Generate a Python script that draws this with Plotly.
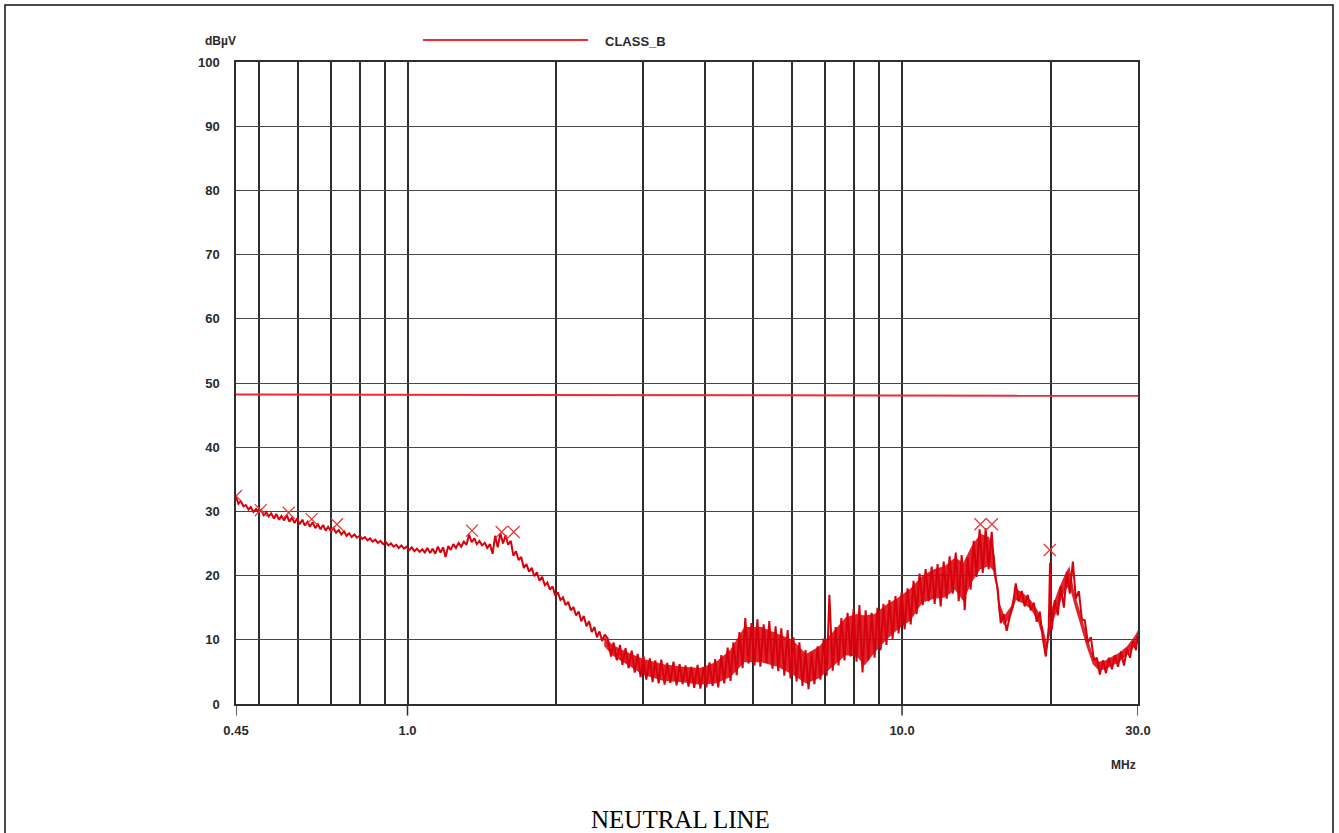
import math
import plotly.graph_objects as go

# ---------------- data ----------------
scan_freq_mhz = [
    0.450, 0.455, 0.460, 0.466, 0.471, 0.477, 0.482, 0.488, 0.494, 0.500,
    0.506, 0.512, 0.518, 0.524, 0.530, 0.537, 0.543, 0.550, 0.556, 0.563,
    0.570, 0.577, 0.584, 0.591, 0.598, 0.605, 0.613, 0.620, 0.628, 0.635,
    0.643, 0.651, 0.659, 0.667, 0.675, 0.683, 0.691, 0.700, 0.708, 0.717,
    0.726, 0.735, 0.744, 0.753, 0.762, 0.771, 0.781, 0.790, 0.800, 0.810,
    0.820, 0.830, 0.840, 0.850, 0.861, 0.871, 0.882, 0.893, 0.904, 0.915,
    0.926, 0.937, 0.949, 0.960, 0.972, 0.984, 0.996, 1.008, 1.020, 1.033,
    1.045, 1.058, 1.071, 1.084, 1.097, 1.111, 1.124, 1.138, 1.152, 1.166,
    1.180, 1.194, 1.209, 1.223, 1.238, 1.253, 1.269, 1.284, 1.300, 1.316,
    1.332, 1.348, 1.365, 1.381, 1.398, 1.415, 1.433, 1.450, 1.468, 1.486,
    1.504, 1.522, 1.541, 1.560, 1.579, 1.598, 1.618, 1.637, 1.657, 1.678,
    1.698, 1.719, 1.740, 1.761, 1.783, 1.805, 1.827, 1.849, 1.872, 1.895,
    1.918, 1.941, 1.965, 1.989, 2.013, 2.038, 2.063, 2.088, 2.113, 2.139,
    2.165, 2.192, 2.219, 2.246, 2.273, 2.301, 2.329, 2.358, 2.387, 2.416,
    2.445, 2.475, 2.505,
    2.54, 2.58, 2.61, 2.65, 2.69, 2.72, 2.76, 2.80, 2.84, 2.88,
    2.92, 2.96, 3.00, 3.04, 3.09, 3.13, 3.17, 3.22, 3.26, 3.31,
    3.35, 3.40, 3.45, 3.50, 3.55, 3.60, 3.65, 3.70, 3.75, 3.80,
    3.86, 3.91, 3.97, 4.02, 4.08, 4.14, 4.19, 4.25, 4.31, 4.37,
    4.44, 4.50, 4.56, 4.63, 4.69, 4.76, 4.82, 4.89, 4.96, 5.03,
    5.10, 5.17, 5.25, 5.32, 5.39, 5.47, 5.55, 5.62, 5.70, 5.78,
    5.87, 5.95, 6.03, 6.12, 6.20, 6.29, 6.38, 6.47, 6.56, 6.65,
    6.75, 6.84, 6.94, 7.04, 7.13, 7.24, 7.34, 7.44, 7.54, 7.65,
    7.76, 7.87, 7.98, 8.09, 8.20, 8.32, 8.44, 8.55, 8.68, 8.80,
    8.92, 9.05, 9.17, 9.30, 9.43, 9.57, 9.70, 9.84, 9.98, 10.12,
    10.26, 10.41, 10.55, 10.70, 10.85, 11.01, 11.16, 11.32, 11.48, 11.64,
    11.80, 11.97, 12.14, 12.31, 12.48, 12.66, 12.84, 13.02, 13.20, 13.39,
    13.57, 13.76, 13.96, 14.15, 14.35, 14.56, 14.76, 14.97, 15.18, 15.39,
    15.61, 15.83, 16.05, 16.28, 16.51, 16.74, 16.98, 17.22, 17.46, 17.70,
    17.95, 18.21, 18.46, 18.72, 18.99, 19.26, 19.53, 19.80, 19.92, 20.08,
    20.36, 20.65, 20.94, 21.24, 21.54, 21.84, 22.15, 22.46, 22.78, 23.10,
    23.42, 23.75, 24.09, 24.43, 24.77, 25.12, 25.48, 25.84, 26.20, 26.57,
    26.95, 27.33, 27.71, 28.10, 28.50, 28.90, 29.31, 29.72, 29.90, 30.0,
]

scan_level_dbuv = [
    32.3, 31.2, 31.6, 30.8, 31.0, 30.3, 30.7, 29.9, 30.4, 29.8,
    30.2, 29.4, 29.9, 29.2, 29.7, 28.9, 29.6, 28.7, 29.3, 28.6,
    29.4, 28.4, 29.0, 28.2, 28.9, 28.0, 28.7, 27.8, 28.4, 27.6,
    28.3, 27.4, 28.0, 27.2, 27.9, 27.0, 27.6, 26.9, 27.4, 26.7,
    27.1, 26.4, 26.9, 26.2, 26.6, 26.0, 26.4, 25.9, 26.2, 25.7,
    26.0, 25.5, 25.8, 25.3, 25.6, 25.1, 25.4, 24.9, 25.2, 24.7,
    25.0, 24.5, 24.8, 24.3, 24.7, 24.2, 24.5, 24.0, 24.4, 23.8,
    24.2, 23.7, 24.1, 23.6, 24.3, 23.5, 24.2, 23.4, 24.5, 23.6,
    24.4, 22.9, 24.6, 24.0, 24.9, 24.3, 25.1, 24.5, 25.3, 24.8,
    26.4, 25.2, 25.8, 24.9, 25.4, 24.7, 25.1, 24.3, 24.9, 23.4,
    26.2, 24.4, 26.6, 25.0, 26.3, 24.8, 25.4, 23.1, 23.8, 22.4,
    22.9, 21.2, 21.8, 20.6, 21.2, 19.9, 20.5, 19.2, 19.8, 18.5,
    18.9, 17.8, 18.3, 16.9, 17.4, 16.2, 16.6, 15.4, 15.9, 14.6,
    15.1, 13.8, 14.4, 12.9, 13.7, 12.1, 12.9, 11.2, 12.0, 10.4,
    11.3, 9.8, 10.8,
    10.2, 7.4, 9.6, 6.8, 9.2, 6.1, 8.7, 5.6, 8.3, 4.9,
    7.8, 4.2, 7.5, 3.8, 7.1, 3.4, 6.8, 3.2, 6.9, 3.0,
    6.4, 3.3, 6.6, 2.9, 6.2, 3.1, 6.0, 2.7, 5.8, 2.5,
    6.1, 2.4, 5.7, 2.6, 6.5, 2.8, 7.0, 2.6, 7.6, 3.2,
    8.8, 3.6, 9.6, 4.5, 11.2, 5.6, 13.4, 6.3, 12.6, 6.0,
    13.2, 5.8, 12.4, 6.4, 12.9, 5.5, 12.1, 5.1, 11.8, 4.4,
    11.5, 4.0, 10.4, 3.5, 9.6, 2.8, 8.4, 2.3, 8.1, 3.1,
    9.0, 3.8, 10.2, 4.4, 17.0, 5.2, 12.0, 6.0, 13.4, 6.8,
    14.2, 7.4, 14.8, 6.6, 15.4, 4.9, 14.6, 6.8, 14.2, 7.2,
    15.0, 8.4, 15.6, 9.2, 16.2, 10.1, 16.8, 11.0, 17.4, 11.6,
    18.0, 12.4, 19.2, 14.0, 20.3, 15.4, 21.0, 16.0, 21.4, 15.6,
    21.8, 15.2, 22.2, 16.4, 23.0, 17.2, 23.6, 16.0, 23.2, 14.6,
    22.8, 17.8, 25.4, 19.8, 27.2, 20.4, 27.4, 21.0, 26.8, 20.2,
    18.0, 12.6, 14.0, 11.4, 13.6, 15.2, 18.8, 16.0, 17.6, 15.2,
    17.0, 14.6, 15.8, 12.8, 14.4, 10.2, 7.4, 12.0, 22.0, 11.6,
    16.2, 13.8, 18.4, 15.0, 20.6, 17.2, 22.2, 16.4, 17.6, 13.2,
    13.0, 9.6, 10.4, 6.8, 7.2, 4.6, 6.8, 4.8, 7.2, 5.4,
    7.6, 5.8, 8.2, 6.0, 8.6, 7.2, 9.8, 8.4, 10.6, 9.4,
]

# body of the dense noise band (read as lower / upper edge of the solid red area)
band_freq_mhz = [
    2.50, 2.60, 2.80, 3.00, 3.30, 3.60, 3.90, 4.20, 4.50, 4.80,
    5.20, 5.60, 6.00, 6.40, 6.80, 7.20, 7.70, 8.10, 8.40, 8.80,
    9.30, 9.80, 10.4, 11.0, 11.6, 12.2, 12.8, 13.3, 13.8, 14.4,
    15.0, 15.4, 15.7, 16.1, 16.6, 17.0, 17.6, 18.2, 18.8, 19.3,
    19.6, 20.1, 20.7, 21.3, 21.8, 22.3, 22.9, 23.6, 24.3, 25.0,
    25.8, 26.6, 27.5, 28.5, 29.5, 30.0,
]
band_low_dbuv = [
    9.0, 7.5, 6.0, 4.5, 3.6, 3.4, 3.0, 3.2, 4.2, 6.5,
    6.5, 5.8, 4.6, 3.2, 4.0, 5.6, 7.6, 7.4, 6.0, 8.0,
    10.0, 11.6, 13.0, 15.8, 16.4, 16.6, 17.8, 16.0, 18.8, 21.0,
    21.5, 20.5, 14.0, 12.2, 13.8, 16.2, 15.6, 14.8, 13.0, 10.0,
    8.0, 12.5, 15.0, 17.5, 18.5, 15.5, 12.5, 9.0, 6.2, 5.2,
    5.4, 6.0, 6.6, 7.6, 9.0, 9.6,
]
band_high_dbuv = [
    10.5, 9.2, 8.0, 7.0, 6.2, 5.8, 5.6, 6.5, 8.5, 12.0,
    12.0, 11.0, 10.0, 7.8, 9.0, 11.0, 13.5, 14.0, 13.8, 14.0,
    15.5, 16.5, 18.0, 20.0, 21.0, 21.5, 22.8, 22.0, 24.5, 26.5,
    26.0, 23.0, 16.0, 13.8, 15.2, 18.0, 17.2, 16.2, 14.6, 11.8,
    9.5, 15.0, 17.8, 20.0, 21.5, 17.5, 14.5, 10.8, 7.6, 6.6,
    6.8, 7.4, 8.0, 9.0, 10.5, 11.5,
]

peak_freq_mhz = [0.45, 0.505, 0.575, 0.64, 0.72, 1.35, 1.55, 1.64, 14.4, 15.2, 19.9]
peak_level_dbuv = [32.4, 30.2, 29.8, 28.8, 28.0, 27.0, 26.8, 26.8, 28.0, 28.0, 24.0]

limit_freq_mhz = [0.45, 30.0]
limit_level_dbuv = [48.2, 48.0]
limit_name = "CLASS_B"

grid_freqs = [0.45, 0.5, 0.6, 0.7, 0.8, 0.9, 1.0, 2, 3, 4, 5, 6, 7, 8, 9, 10, 20, 30]
grid_labels = ["0.45", "", "", "", "", "", "1.0", "", "", "", "", "", "", "", "", "10.0", "", "30.0"]
labeled_freqs = [0.45, 1.0, 10.0, 30.0]
y_ticks = [0, 10, 20, 30, 40, 50, 60, 70, 80, 90, 100]

# ---------------- figure ----------------
W, H = 1339, 833
L, R, T, B = 236, 201, 62, 129
pw, ph = W - L - R, H - T - B

def px_x(p):
    return (p - L) / pw

def px_y(p):
    return (H - B - p) / ph

RED = "#d8000a"
fig = go.Figure()

fig.add_trace(go.Scatter(
    x=limit_freq_mhz, y=limit_level_dbuv, mode="lines",
    line=dict(color="#f02830", width=2), showlegend=False, hoverinfo="skip"))

fig.add_trace(go.Scatter(
    x=band_freq_mhz, y=band_low_dbuv, mode="lines",
    line=dict(color="rgba(0,0,0,0)", width=0), showlegend=False, hoverinfo="skip"))
fig.add_trace(go.Scatter(
    x=band_freq_mhz, y=band_high_dbuv, mode="lines", fill="tonexty",
    fillcolor="rgba(216,0,10,0.85)",
    line=dict(color="rgba(0,0,0,0)", width=0), showlegend=False, hoverinfo="skip"))

fig.add_trace(go.Scatter(
    x=scan_freq_mhz, y=scan_level_dbuv, mode="lines",
    line=dict(color=RED, width=2), showlegend=False))

fig.add_trace(go.Scatter(
    x=peak_freq_mhz, y=peak_level_dbuv, mode="markers",
    marker=dict(symbol="x-thin-open", size=12, color="#e63a3a",
                line=dict(color="#e63a3a", width=1.3)),
    showlegend=False))

tick_font = dict(family="Liberation Sans, Arial, sans-serif", size=13, color="#2a2a2a")

fig.update_xaxes(
    type="log", range=[math.log10(0.45), math.log10(30)],
    tickmode="array", tickvals=grid_freqs,
    ticktext=[("<b>%s</b>" % t) if t else "" for t in grid_labels],
    showgrid=True, gridcolor="#2e2e2e", gridwidth=1.5,
    showline=True, mirror=True, linecolor="#2e2e2e", linewidth=1.5,
    ticks="", tickfont=tick_font, ticklabelstandoff=14, zeroline=False)

fig.update_yaxes(
    range=[0, 100], tickmode="array", tickvals=y_ticks,
    ticktext=["<b>%d</b>" % v for v in y_ticks],
    showgrid=True, gridcolor="#474747", gridwidth=1.2,
    showline=True, mirror=True, linecolor="#2e2e2e", linewidth=1.5,
    ticks="", tickfont=tick_font, ticklabelstandoff=12, zeroline=False)

shapes = []
# small tick stubs below the axis at labelled frequencies
for f in labeled_freqs:
    shapes.append(dict(type="line", xref="x", yref="paper", x0=f, x1=f, y0=0, y1=-0.018,
                       line=dict(color="#2e2e2e", width=1.5)))
# legend sample line
shapes.append(dict(type="line", xref="paper", yref="paper",
                   x0=px_x(423), x1=px_x(588), y0=px_y(40), y1=px_y(40),
                   line=dict(color="#f02830", width=2)))
# outer page frame
shapes.append(dict(type="rect", xref="paper", yref="paper",
                   x0=px_x(5), x1=px_x(1333), y0=px_y(5), y1=px_y(845),
                   line=dict(color="#111111", width=1.5)))

lab_font = dict(family="Liberation Sans, Arial, sans-serif", size=13, color="#2a2a2a")
annotations = [
    dict(text="<b>%s</b>" % limit_name, xref="paper", yref="paper", x=px_x(603), y=px_y(41),
         xanchor="left", yanchor="middle", showarrow=False, font=lab_font),
    dict(text="<b>dBµV</b>", xref="paper", yref="paper", x=px_x(203), y=px_y(41),
         xanchor="left", yanchor="middle", showarrow=False,
         font=dict(family="Liberation Sans, Arial, sans-serif", size=12, color="#2a2a2a")),
    dict(text="<b>MHz</b>", xref="x", yref="paper", x=math.log10(30), y=px_y(765),
         xanchor="right", yanchor="middle", showarrow=False,
         font=dict(family="Liberation Sans, Arial, sans-serif", size=12, color="#2a2a2a")),
    dict(text="NEUTRAL LINE", xref="paper", yref="paper", x=px_x(680), y=px_y(835),
         xanchor="center", yanchor="bottom", showarrow=False,
         font=dict(family="Liberation Serif, Times New Roman, serif", size=25, color="#000000")),
]

fig.update_layout(
    width=W, height=H, margin=dict(l=L, r=R, t=T, b=B),
    paper_bgcolor="white", plot_bgcolor="white",
    shapes=shapes, annotations=annotations, showlegend=False,
    font=dict(family="Liberation Sans, Arial, sans-serif"))

fig.write_html("out.html", config={"displayModeBar": False},
               post_script="document.body.style.margin='0px';document.body.style.overflow='hidden';")
